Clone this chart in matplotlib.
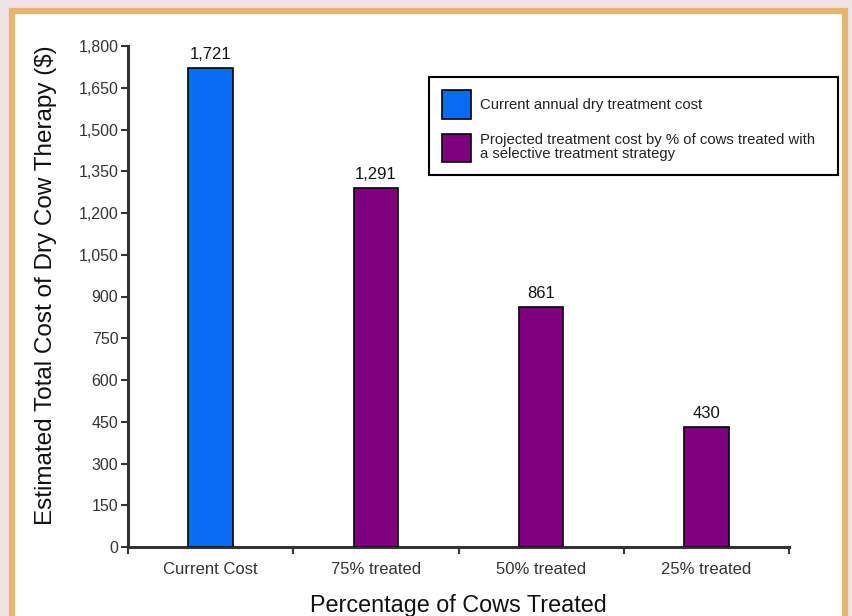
import matplotlib
matplotlib.use("Agg")
import matplotlib.pyplot as plt
from matplotlib.patches import Rectangle, Patch
from matplotlib.ticker import FuncFormatter, FixedLocator

categories = ["Current Cost", "75% treated", "50% treated", "25% treated"]
values = [1721, 1291, 861, 430]
bar_colors = ["#0A6BF5", "#7F007F"]
legend_labels = ["Current annual dry treatment cost",
                 "Projected treatment cost by % of cows treated with\na selective treatment strategy"]
yticks = list(range(0, 1801, 150))

plt.rcParams['font.family'] = ['Liberation Sans', 'DejaVu Sans']

fig = plt.figure(figsize=(8.53, 6.16), dpi=100)
fig.patch.set_facecolor("#EFE2E4")
# white panel with orange border
fig.patches.append(Rectangle((12/853, -0.05), (845-12)/853, 1.05 - 11/616,
                             transform=fig.transFigure, facecolor="white",
                             edgecolor="#E8B46E", linewidth=4.5, zorder=-10))

ax = fig.add_axes([128/853, 1-547/616, (789-128)/853, (547-46)/616])
ax.set_facecolor("none")
ax.set_zorder(1)
x = list(range(len(categories)))
colors = [bar_colors[0]] + [bar_colors[1]] * (len(categories) - 1)
bars = ax.bar(x, values, width=0.27, color=colors, edgecolor="black", linewidth=1.2, zorder=3)
for xi, v in zip(x, values):
    ax.text(xi, v + 22, f"{v:,}", ha="center", va="bottom", fontsize=12, color="#111111")

ax.set_xlim(-0.5, len(categories) - 0.5)
ax.set_ylim(0, 1800)
ax.set_yticks(yticks)
ax.yaxis.set_major_formatter(FuncFormatter(lambda v, p: f"{int(v):,}"))
ax.set_xticks(x)
ax.set_xticklabels(categories, fontsize=12, color="#333333")
ax.xaxis.set_minor_locator(FixedLocator([i + 0.5 for i in range(-1, len(categories))]))
ax.tick_params(axis="x", which="major", length=0, pad=11)
ax.tick_params(axis="x", which="minor", length=5, width=1.5, direction="out", color="#333333")
ax.tick_params(axis="y", length=5, width=1.5, direction="out", color="#333333",
               labelsize=11.5, labelcolor="#333333", pad=2)
for s in ["top", "right"]:
    ax.spines[s].set_visible(False)
for s in ["left", "bottom"]:
    ax.spines[s].set_linewidth(2.2)
    ax.spines[s].set_color("#333333")

ax.set_ylabel("Estimated Total Cost of Dry Cow Therapy ($)", fontsize=17.5, color="#111111")
ax.yaxis.set_label_coords(-0.107, 0.523)
ax.set_xlabel("Percentage of Cows Treated", fontsize=16.8, color="#111111", labelpad=12)

handles = [Patch(facecolor=bar_colors[0], edgecolor="black", linewidth=1.2),
           Patch(facecolor=bar_colors[1], edgecolor="black", linewidth=1.2)]
leg = fig.legend(handles, legend_labels, loc="upper left",
                 bbox_to_anchor=(429/853, 1-78/616, (838-429)/853, 0.001), mode="expand",
                 fontsize=10.7,
                 handlelength=1.95, handleheight=2.6, handletextpad=0.65,
                 labelspacing=0.95, borderpad=0.85, borderaxespad=0,
                 frameon=True, fancybox=False,
                 edgecolor="black", framealpha=1)
leg.get_frame().set_linewidth(1.5)
leg.set_zorder(5)
for t in leg.get_texts():
    t.set_color("#222222")
    t.set_linespacing(1.0)

fig.savefig("out.png", dpi=100, facecolor=fig.get_facecolor())
